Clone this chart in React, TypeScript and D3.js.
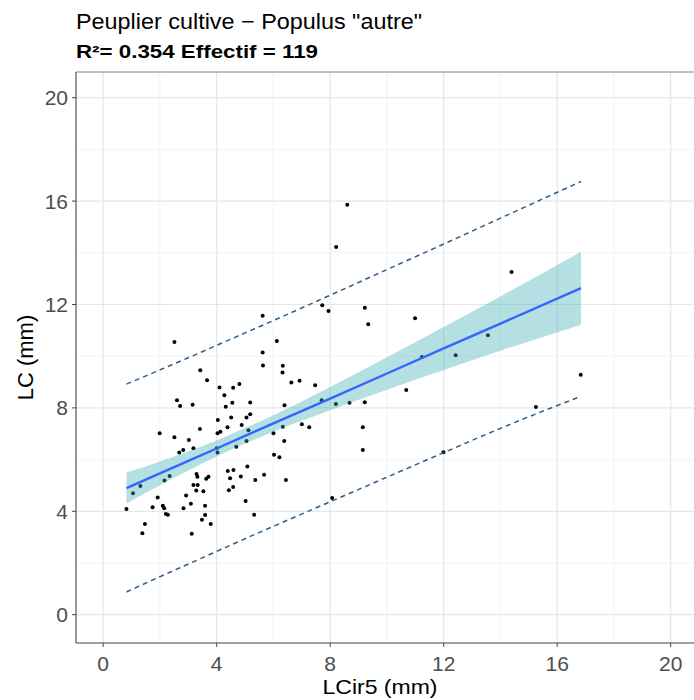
import React from "react";
import * as d3 from "d3";

// LCir5 (mm) and LC (mm)
const lcir5 = [
  2.51, 3.42, 3.66, 4.10, 2.60, 2.71, 3.15, 4.04, 3.41, 1.99,
  2.51, 3.02, 2.68, 2.82, 3.18, 4.00, 4.03, 1.05, 1.31, 2.16,
  2.34, 0.82, 1.92, 1.74, 2.10, 2.15, 2.21, 2.28, 1.47, 1.38,
  2.92, 2.83, 3.09, 3.29, 3.32, 3.18, 3.33, 3.28, 3.53, 3.63,
  3.71, 3.59, 3.59, 3.48, 3.79, 3.12, 6.12, 5.62, 5.63, 6.33,
  6.32, 6.63, 6.92, 7.47, 4.27, 4.58, 4.80, 4.55, 4.32, 5.18,
  6.39, 4.51, 5.18, 5.05, 4.38, 4.88, 5.12, 4.03, 4.13, 6.00,
  6.33, 7.00, 7.26, 7.70, 6.38, 5.05, 4.69, 6.02, 6.21, 5.08,
  4.39, 4.59, 4.47, 4.85, 5.36, 5.67, 6.44, 4.43, 4.58, 5.02,
  5.32, 8.20, 8.68, 9.22, 9.15, 9.15, 10.68, 11.23, 12.42, 11.99,
  8.07, 8.60, 8.21, 7.72, 7.94, 9.22, 9.34, 10.99, 5.62, 14.39,
  13.56, 16.83, 15.25,
];
const lc = [
  10.55, 9.46, 9.07, 8.79, 8.30, 8.07, 8.12, 7.53, 7.18, 7.02,
  6.86, 6.76, 6.27, 6.37, 6.44, 6.44, 6.27, 4.70, 4.98, 5.19,
  5.37, 4.09, 4.53, 4.16, 4.21, 4.12, 3.90, 3.87, 3.51, 3.15,
  4.61, 4.12, 4.29, 5.44, 5.34, 5.02, 5.02, 4.80, 4.78, 5.26,
  5.34, 4.21, 3.86, 3.67, 3.51, 3.13, 10.59, 10.14, 9.64, 9.63,
  9.37, 8.98, 9.05, 8.88, 8.49, 8.78, 8.92, 8.20, 8.04, 8.21,
  8.10, 7.63, 7.75, 7.63, 7.25, 7.34, 7.14, 7.02, 7.08, 7.02,
  7.27, 7.37, 7.25, 8.30, 6.72, 6.72, 6.50, 6.19, 6.09, 5.73,
  5.56, 5.60, 5.28, 5.35, 5.21, 5.41, 5.21, 4.81, 4.94, 4.40,
  3.87, 8.15, 8.20, 8.22, 7.25, 6.37, 8.69, 9.97, 10.04, 6.28,
  4.51, 15.86, 14.22, 11.97, 11.75, 11.87, 11.24, 11.47, 11.56, 13.26,
  10.81, 9.28, 8.03,
];

// fitted line, confidence band and prediction limits
const fitX = [0.82, 2, 3, 4, 5, 6, 8, 10, 12, 14, 16.84];
const fitY = [4.9, 5.47, 5.95, 6.43, 6.92, 7.4, 8.36, 9.33, 10.3, 11.26, 12.63];
const seLower = [4.3, 5.01, 5.58, 6.12, 6.62, 7.08, 7.91, 8.7, 9.47, 10.21, 11.22];
const seUpper = [5.5, 5.93, 6.32, 6.74, 7.22, 7.72, 8.81, 9.96, 11.13, 12.31, 14.04];
const predUpper = [8.92, 9.47, 9.94, 10.42, 10.9, 11.38, 12.36, 13.35, 14.34, 15.34, 16.76];
const predLower = [0.88, 1.47, 1.96, 2.45, 2.94, 3.42, 4.37, 5.32, 6.27, 7.21, 8.45];

const majorTicks = [0, 4, 8, 12, 16, 20];
const minorTicks = [2, 6, 10, 14, 18];

const titleText = "Peuplier cultive \u2212 Populus \"autre\"";
const subtitleText = "R\u00B2= 0.354 Effectif = 119";
const xTitle = "LCir5 (mm)";
const yTitle = "LC (mm)";

export default function App() {
  const W = 694;
  const H = 700;
  const panel = { left: 76, right: 694, top: 72, bottom: 643 };
  const x = d3.scaleLinear().domain([0, 20]).range([103.2, 670.7]);
  const y = d3.scaleLinear().domain([0, 20]).range([614.7, 97.7]);
  const font = "'Liberation Sans', Arial, sans-serif";

  const idx = fitX.map((_, i) => i);
  const ribbon = d3
    .area<number>()
    .x((i) => x(fitX[i]))
    .y0((i) => y(seLower[i]))
    .y1((i) => y(seUpper[i]))
    .curve(d3.curveMonotoneX)(idx) as string;
  const fitLine = d3
    .line<number>()
    .x((i) => x(fitX[i]))
    .y((i) => y(fitY[i]))(idx) as string;
  const upLine = d3
    .line<number>()
    .x((i) => x(fitX[i]))
    .y((i) => y(predUpper[i]))
    .curve(d3.curveMonotoneX)(idx) as string;
  const loLine = d3
    .line<number>()
    .x((i) => x(fitX[i]))
    .y((i) => y(predLower[i]))
    .curve(d3.curveMonotoneX)(idx) as string;

  return (
    <div style={{ position: "absolute", left: 0, top: 0 }}>
      <svg width={W} height={H} style={{ display: "block", background: "#fff" }}>
        <rect x={0} y={0} width={W} height={H} fill="#fff" />
        <text x={76} y={29} fontFamily={font} fontSize={22} fill="#000" textLength={346} lengthAdjust="spacingAndGlyphs">
          {titleText}
        </text>
        <text x={76} y={58} fontFamily={font} fontSize={18} fontWeight="bold" fill="#000" textLength={242} lengthAdjust="spacingAndGlyphs">
          {subtitleText}
        </text>

        {/* grid */}
        {minorTicks.map((t) => (
          <g key={"mn" + t}>
            <line x1={x(t)} x2={x(t)} y1={panel.top} y2={panel.bottom} stroke="#f0f0f0" strokeWidth={0.8} />
            <line x1={panel.left} x2={panel.right} y1={y(t)} y2={y(t)} stroke="#f0f0f0" strokeWidth={0.8} />
          </g>
        ))}
        {majorTicks.map((t) => (
          <g key={"mj" + t}>
            <line x1={x(t)} x2={x(t)} y1={panel.top} y2={panel.bottom} stroke="#e6e6e6" strokeWidth={1.2} />
            <line x1={panel.left} x2={panel.right} y1={y(t)} y2={y(t)} stroke="#e6e6e6" strokeWidth={1.2} />
          </g>
        ))}

        {/* points */}
        {lcir5.map((v, i) => (
          <circle key={i} cx={x(v)} cy={y(lc[i])} r={2} fill="#000" />
        ))}

        {/* smooth */}
        <path d={ribbon} fill="#3aaeb6" fillOpacity={0.38} stroke="none" />
        <path d={fitLine} fill="none" stroke="#3366FF" strokeWidth={2.4} />
        <path d={upLine} fill="none" stroke="#2f5e8c" strokeWidth={1.5} strokeDasharray="5,4" />
        <path d={loLine} fill="none" stroke="#2f5e8c" strokeWidth={1.5} strokeDasharray="5,4" />

        {/* panel border / axes */}
        <line x1={panel.left} x2={panel.right} y1={panel.top} y2={panel.top} stroke="#666" strokeWidth={0.8} />
        <line x1={panel.left} x2={panel.left} y1={panel.top} y2={panel.bottom} stroke="#444" strokeWidth={1.1} />
        <line x1={panel.left} x2={panel.right} y1={panel.bottom} y2={panel.bottom} stroke="#444" strokeWidth={1.1} />

        {majorTicks.map((t) => (
          <g key={"tx" + t}>
            <line x1={x(t)} x2={x(t)} y1={panel.bottom} y2={panel.bottom + 4} stroke="#444" strokeWidth={1} />
            <text x={x(t)} y={671} textAnchor="middle" fontFamily={font} fontSize={21} fill="#4d4d4d">
              {t}
            </text>
            <line x1={panel.left - 4} x2={panel.left} y1={y(t)} y2={y(t)} stroke="#444" strokeWidth={1} />
            <text x={68} y={y(t) + 7.5} textAnchor="end" fontFamily={font} fontSize={21} fill="#4d4d4d">
              {t}
            </text>
          </g>
        ))}

        <text x={380} y={694} textAnchor="middle" fontFamily={font} fontSize={21} fill="#000" textLength={115} lengthAdjust="spacingAndGlyphs">
          {xTitle}
        </text>
        <text
          transform={`translate(33, ${(panel.top + panel.bottom) / 2}) rotate(-90)`}
          textAnchor="middle"
          fontFamily={font}
          fontSize={22}
          fill="#000"
        >
          {yTitle}
        </text>
      </svg>
    </div>
  );
}
